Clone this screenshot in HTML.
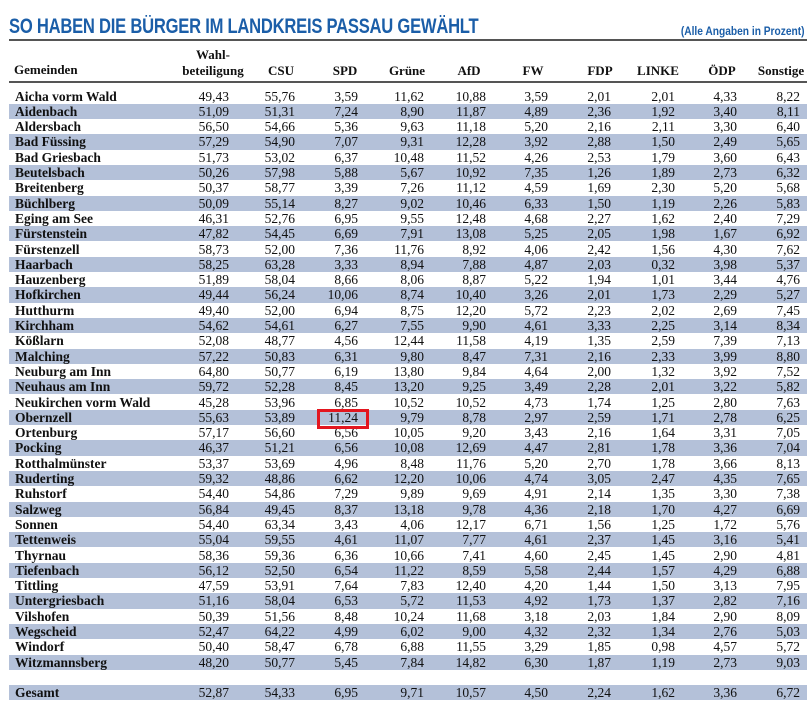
<!DOCTYPE html>
<html><head><meta charset="utf-8"><style>
body{margin:0;width:811px;height:710px;background:#fff;position:relative;overflow:hidden;font-family:"Liberation Serif",serif;color:#111}
.t{position:absolute;left:9px;top:15px;font-family:"Liberation Sans",sans-serif;font-weight:bold;color:#1b5ea8;font-size:21px;transform:scaleX(0.79);transform-origin:left top;white-space:nowrap;letter-spacing:-0.3px}
.n{position:absolute;right:6px;top:24px;font-family:"Liberation Sans",sans-serif;font-weight:bold;color:#1b5ea8;font-size:12px;transform:scaleX(0.85);transform-origin:right top;white-space:nowrap}
.hl{position:absolute;left:9px;width:798px;background:#555}
.h{position:absolute;font-weight:bold;font-size:13px;white-space:nowrap;text-align:center;line-height:16px}
.r{position:absolute;left:9px;width:798px;height:15.3px}
.b{background:#b4c1d9}
.c{position:absolute;top:0;line-height:15.3px;font-size:13.5px;text-align:right;white-space:nowrap}
.nm{position:absolute;left:6px;top:0;line-height:15.3px;font-size:13.5px;font-weight:bold;white-space:nowrap}
.box{position:absolute;left:317px;top:409px;width:46px;height:14px;border:3px solid #e3161f}
</style></head><body>
<div class="t">SO HABEN DIE BÜRGER IM LANDKREIS PASSAU GEWÄHLT</div>
<div class="n">(Alle Angaben in Prozent)</div>
<div class="hl" style="top:39px;height:2px"></div>
<div class="h" style="left:14px;top:62px">Gemeinden</div>
<div class="h" style="left:163px;width:100px;top:47px">Wahl-<br>beteiligung</div>
<div class="h" style="left:256px;width:50px;top:63px">CSU</div>
<div class="h" style="left:320px;width:50px;top:63px">SPD</div>
<div class="h" style="left:382px;width:50px;top:63px">Grüne</div>
<div class="h" style="left:444px;width:50px;top:63px">AfD</div>
<div class="h" style="left:508px;width:50px;top:63px">FW</div>
<div class="h" style="left:575px;width:50px;top:63px">FDP</div>
<div class="h" style="left:628px;width:60px;top:63px">LINKE</div>
<div class="h" style="left:697px;width:50px;top:63px">ÖDP</div>
<div class="h" style="left:754px;width:54px;top:63px">Sonstige</div>
<div class="hl" style="top:81px;height:2px"></div>
<div id="rows"></div>
<div class="box"></div>
<script>
var d=[["Aicha vorm Wald","49,43","55,76","3,59","11,62","10,88","3,59","2,01","2,01","4,33","8,22"],
["Aidenbach","51,09","51,31","7,24","8,90","11,87","4,89","2,36","1,92","3,40","8,11"],
["Aldersbach","56,50","54,66","5,36","9,63","11,18","5,20","2,16","2,11","3,30","6,40"],
["Bad Füssing","57,29","54,90","7,07","9,31","12,28","3,92","2,88","1,50","2,49","5,65"],
["Bad Griesbach","51,73","53,02","6,37","10,48","11,52","4,26","2,53","1,79","3,60","6,43"],
["Beutelsbach","50,26","57,98","5,88","5,67","10,92","7,35","1,26","1,89","2,73","6,32"],
["Breitenberg","50,37","58,77","3,39","7,26","11,12","4,59","1,69","2,30","5,20","5,68"],
["Büchlberg","50,09","55,14","8,27","9,02","10,46","6,33","1,50","1,19","2,26","5,83"],
["Eging am See","46,31","52,76","6,95","9,55","12,48","4,68","2,27","1,62","2,40","7,29"],
["Fürstenstein","47,82","54,45","6,69","7,91","13,08","5,25","2,05","1,98","1,67","6,92"],
["Fürstenzell","58,73","52,00","7,36","11,76","8,92","4,06","2,42","1,56","4,30","7,62"],
["Haarbach","58,25","63,28","3,33","8,94","7,88","4,87","2,03","0,32","3,98","5,37"],
["Hauzenberg","51,89","58,04","8,66","8,06","8,87","5,22","1,94","1,01","3,44","4,76"],
["Hofkirchen","49,44","56,24","10,06","8,74","10,40","3,26","2,01","1,73","2,29","5,27"],
["Hutthurm","49,40","52,00","6,94","8,75","12,20","5,72","2,23","2,02","2,69","7,45"],
["Kirchham","54,62","54,61","6,27","7,55","9,90","4,61","3,33","2,25","3,14","8,34"],
["Kößlarn","52,08","48,77","4,56","12,44","11,58","4,19","1,35","2,59","7,39","7,13"],
["Malching","57,22","50,83","6,31","9,80","8,47","7,31","2,16","2,33","3,99","8,80"],
["Neuburg am Inn","64,80","50,77","6,19","13,80","9,84","4,64","2,00","1,32","3,92","7,52"],
["Neuhaus am Inn","59,72","52,28","8,45","13,20","9,25","3,49","2,28","2,01","3,22","5,82"],
["Neukirchen vorm Wald","45,28","53,96","6,85","10,52","10,52","4,73","1,74","1,25","2,80","7,63"],
["Obernzell","55,63","53,89","11,24","9,79","8,78","2,97","2,59","1,71","2,78","6,25"],
["Ortenburg","57,17","56,60","6,56","10,05","9,20","3,43","2,16","1,64","3,31","7,05"],
["Pocking","46,37","51,21","6,56","10,08","12,69","4,47","2,81","1,78","3,36","7,04"],
["Rotthalmünster","53,37","53,69","4,96","8,48","11,76","5,20","2,70","1,78","3,66","8,13"],
["Ruderting","59,32","48,86","6,62","12,20","10,06","4,74","3,05","2,47","4,35","7,65"],
["Ruhstorf","54,40","54,86","7,29","9,89","9,69","4,91","2,14","1,35","3,30","7,38"],
["Salzweg","56,84","49,45","8,37","13,18","9,78","4,36","2,18","1,70","4,27","6,69"],
["Sonnen","54,40","63,34","3,43","4,06","12,17","6,71","1,56","1,25","1,72","5,76"],
["Tettenweis","55,04","59,55","4,61","11,07","7,77","4,61","2,37","1,45","3,16","5,41"],
["Thyrnau","58,36","59,36","6,36","10,66","7,41","4,60","2,45","1,45","2,90","4,81"],
["Tiefenbach","56,12","52,50","6,54","11,22","8,59","5,58","2,44","1,57","4,29","6,88"],
["Tittling","47,59","53,91","7,64","7,83","12,40","4,20","1,44","1,50","3,13","7,95"],
["Untergriesbach","51,16","58,04","6,53","5,72","11,53","4,92","1,73","1,37","2,82","7,16"],
["Vilshofen","50,39","51,56","8,48","10,24","11,68","3,18","2,03","1,84","2,90","8,09"],
["Wegscheid","52,47","64,22","4,99","6,02","9,00","4,32","2,32","1,34","2,76","5,03"],
["Windorf","50,40","58,47","6,78","6,88","11,55","3,29","1,85","0,98","4,57","5,72"],
["Witzmannsberg","48,20","50,77","5,45","7,84","14,82","6,30","1,87","1,19","2,73","9,03"]];
var R=[229,295,358,424,486,548,611,675,737,800];
var h="";
function row(r,top,band){
 var s='<div class="r'+(band?' b':'')+'" style="top:'+top+'px"><div class="nm">'+r[0]+'</div>';
 for(var j=0;j<10;j++)s+='<div class="c" style="right:'+(807-R[j])+'px">'+r[j+1]+'</div>';
 return s+'</div>';
}
for(var i=0;i<d.length;i++)h+=row(d[i],88.5+i*15.3,i%2==1);
h+=row(["Gesamt","52,87","54,33","6,95","9,71","10,57","4,50","2,24","1,62","3,36","6,72"],684.5,true);
document.getElementById("rows").innerHTML=h;
</script>
</body></html>
